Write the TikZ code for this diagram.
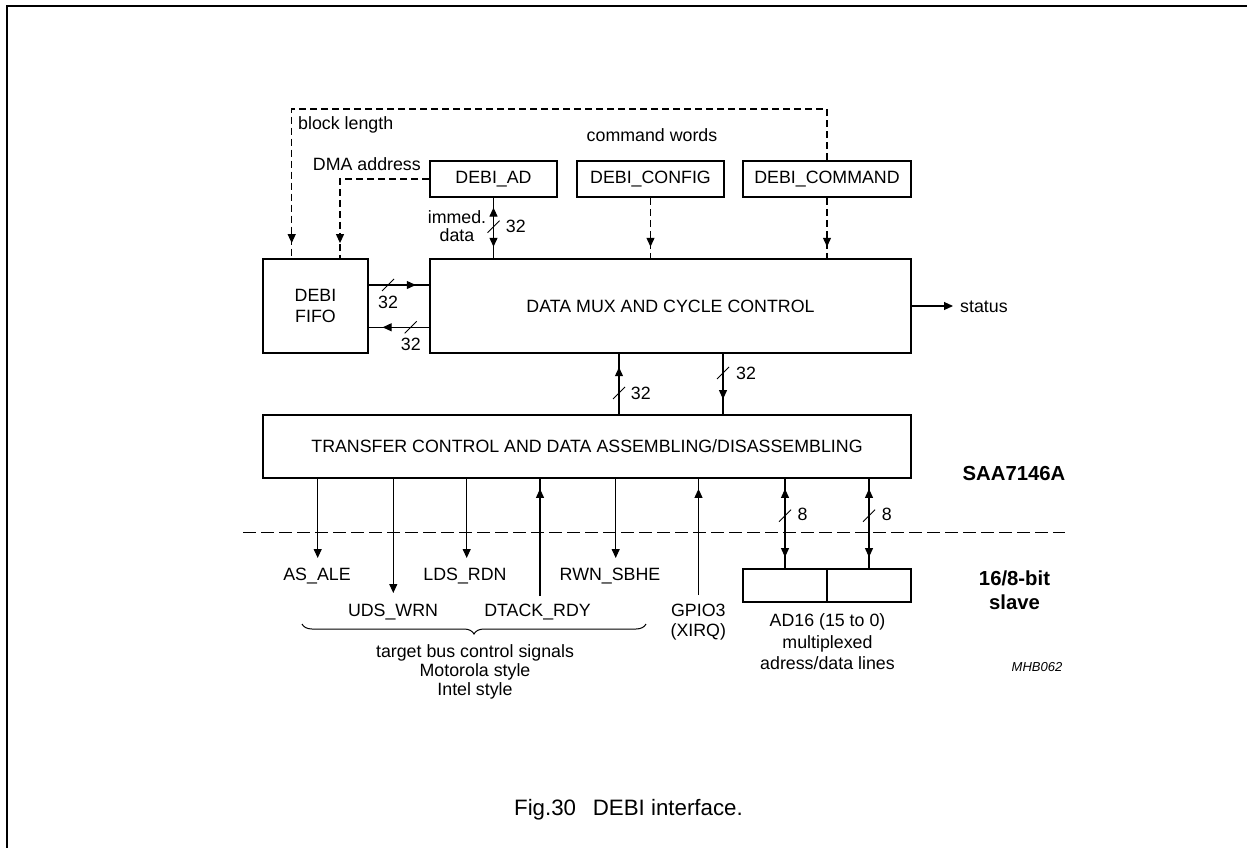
\documentclass[tikz,border=0pt]{standalone}
\usepackage{fontspec}
\setmainfont{Liberation Sans}
\usetikzlibrary{arrows.meta,decorations.markings,decorations.pathreplacing,calc}
\newcommand\lblfont{\fontsize{17.8}{21}\selectfont}
\newcommand\boldfont{\fontsize{20.3}{24}\selectfont\bfseries}
\begin{document}
\begin{tikzpicture}[x=1pt,y=-1pt,
  Tri/.tip={Triangle[length=9pt,width=8pt]},
  box/.style={draw,line width=1.8pt,inner sep=0pt,font=\lblfont},
  lab/.style={inner sep=0pt,font=\lblfont},
  ln/.style={line width=1.1pt},
  dsh/.style={ln,dash pattern=on 7pt off 4pt},
  fwd/.style={postaction={decorate,decoration={markings,mark=at position #1 with {\arrow{Tri}}}}},
  bi/.style 2 args={postaction={decorate,decoration={markings,mark=at position #1 with {\arrowreversed{Tri}},mark=at position #2 with {\arrow{Tri}}}}},
  bus/.pic={\draw[line width=1pt] (-6,6) -- (6,-6);}]
\useasboundingbox (0,0) rectangle (1247,848);
% frame
\draw[line width=1.5pt] (7,848) -- (7,6) -- (1247,6);

% boxes
\node[box,minimum width=127pt,minimum height=36pt] (ad) at (493.5,179) {DEBI\_AD};
\node[box,minimum width=147pt,minimum height=36pt] (cfg) at (650.5,179) {DEBI\_CONFIG};
\node[box,minimum width=168pt,minimum height=36pt] (cmd) at (827,179) {DEBI\_COMMAND};
\node[box,minimum width=105pt,minimum height=94pt,align=center] (fifo) at (315.5,306) {DEBI\\FIFO};
\node[box,minimum width=481pt,minimum height=94pt] (mux) at (670.5,306) {DATA MUX AND CYCLE CONTROL};
\node[box,minimum width=648pt,minimum height=63pt] (xfer) at (587,446.5) {TRANSFER CONTROL AND DATA ASSEMBLING/DISASSEMBLING};
\node[box,minimum width=84pt,minimum height=33pt] (ada) at (785,585.5) {};
\node[box,minimum width=84pt,minimum height=33pt] (adb) at (869,585.5) {};

% labels
\node[lab,anchor=base west] (blk) at (298,129) {block length};
\node[lab,anchor=base east] (dma) at (421,170) {DMA address};
\node[lab,anchor=base] (cw) at (652,141.7) {command words};
\node[lab,anchor=base] (imm1) at (457,223.3) {immed.};
\node[lab,anchor=base] (imm2) at (457,241.7) {data};
\node[lab,anchor=base west] (n1) at (505.7,232.7) {32};
\node[lab,anchor=base west] (n2) at (378,308.3) {32};
\node[lab,anchor=base west] (n3) at (400.7,350.7) {32};
\node[lab,anchor=base west] (n4) at (630.7,399) {32};
\node[lab,anchor=base west] (n5) at (736,379) {32};
\node[lab,anchor=base west] (n6) at (797.3,520.3) {8};
\node[lab,anchor=base west] (n7) at (881.7,520.3) {8};
\node[lab,anchor=base west] (status) at (960,312.7) {status};
\node[lab,anchor=base] (asale) at (317,580.7) {AS\_ALE};
\node[lab,anchor=base] (ldsrdn) at (465,580.7) {LDS\_RDN};
\node[lab,anchor=base] (rwn) at (610,580.7) {RWN\_SBHE};
\node[lab,anchor=base] (uds) at (393,616) {UDS\_WRN};
\node[lab,anchor=base] (dtack) at (537.5,616) {DTACK\_RDY};
\node[lab,anchor=base] (gpio) at (698.3,616) {GPIO3};
\node[lab,anchor=base] (xirq) at (698.3,636.7) {(XIRQ)};
\node[lab,anchor=base] (ad1) at (827.5,626.7) {AD16 (15 to 0)};
\node[lab,anchor=base] (ad2) at (827.5,648) {multiplexed};
\node[lab,anchor=base] (ad3) at (827.5,669) {adress/data lines};
\node[lab,anchor=base] (tb1) at (475,657.5) {target bus control signals};
\node[lab,anchor=base] (tb2) at (475,676.5) {Motorola style};
\node[lab,anchor=base] (tb3) at (475,695.5) {Intel style};
\node[inner sep=0pt,font=\boldfont,anchor=base] (saa) at (1014,480) {SAA7146A};
\node[inner sep=0pt,font=\boldfont,anchor=base] (sl1) at (1014.5,585) {16/8-bit};
\node[inner sep=0pt,font=\boldfont,anchor=base] (sl2) at (1014.5,609.3) {slave};
\node[inner sep=0pt,font=\fontsize{13}{15}\selectfont\itshape,anchor=base] (mhb) at (1037,671) {MHB062};
\node[inner sep=0pt,font=\fontsize{22.3}{26}\selectfont,anchor=base] (cap) at (628.5,815) {Fig.30\hspace{0.75em}DEBI interface.};

% coordinates
\coordinate (tl) at (291.7,109);
\coordinate (dm) at (340,179);
\coordinate (ya) at (0,285);
\coordinate (yb) at (0,327.3);
\coordinate (xu) at (619,0);
\coordinate (xd) at (723,0);
\coordinate (eAS) at (317.7,558);
\coordinate (eUDS) at (393.3,593);
\coordinate (eLDS) at (466.7,558);
\coordinate (eRWN) at (615.7,558);
\coordinate (sDT) at (540,596);
\coordinate (sGP) at (698.5,595);
\coordinate (sepL) at (243,532.3);
\coordinate (sepR) at (1065,532.3);
\coordinate (brL) at (302,624);
\coordinate (brR) at (646,624);

% dashed control lines
\draw[dsh,fwd=-15pt] (cmd.north) |- (tl) -- (tl |- fifo.north);
\draw[dsh,fwd=-15pt] (ad.west) -- (dm) -- (dm |- fifo.north);
\draw[dsh,fwd=-11.3pt] (cfg.south) -- (cfg.south |- mux.north);
\draw[dsh,fwd=-11.3pt] (cmd.south) -- (cmd.south |- mux.north);

% data paths
\draw[ln,bi={9.7pt}{-11.3pt}] (ad.south) -- (ad.south |- mux.north);
\pic at (493.5,226.7) {bus};
\draw[ln,fwd=-13.3pt] (fifo.east |- ya) -- (mux.west |- ya);
\pic at (388,285) {bus};
\draw[ln,fwd=-13.7pt] (mux.west |- yb) -- (fifo.east |- yb);
\pic at (410.7,327.3) {bus};
\draw[ln,-Tri,shorten >=7pt] (mux.east) -- (mux.east -| status.west);
\draw[ln,fwd=-13.3pt] (xfer.north -| xu) -- (mux.south -| xu);
\pic at (619,393) {bus};
\draw[ln,fwd=-15pt] (mux.south -| xd) -- (xfer.north -| xd);
\pic at (723,373) {bus};

% bus control signals
\draw[ln,-Tri] (xfer.south -| eAS) -- (eAS);
\draw[ln,-Tri] (xfer.south -| eUDS) -- (eUDS);
\draw[ln,-Tri] (xfer.south -| eLDS) -- (eLDS);
\draw[ln,-Tri] (xfer.south -| eRWN) -- (eRWN);
\draw[ln,fwd=-10pt] (sDT) -- (sDT |- xfer.south);
\draw[ln,fwd=-10pt] (sGP) -- (sGP |- xfer.south);
\draw[ln,bi={10pt}{-11pt}] (xfer.south -| ada.north) -- (ada.north);
\draw[ln,bi={10pt}{-11pt}] (xfer.south -| adb.north) -- (adb.north);
\pic at (785,515.7) {bus};
\pic at (869,515.7) {bus};

% separator and brace
\draw[ln,dash pattern=on 13pt off 5pt] (sepL) -- (sepR);
\draw[line width=1pt,decorate,decoration={brace,mirror,amplitude=10pt}] (brL) -- (brR);
\end{tikzpicture}
\end{document}
